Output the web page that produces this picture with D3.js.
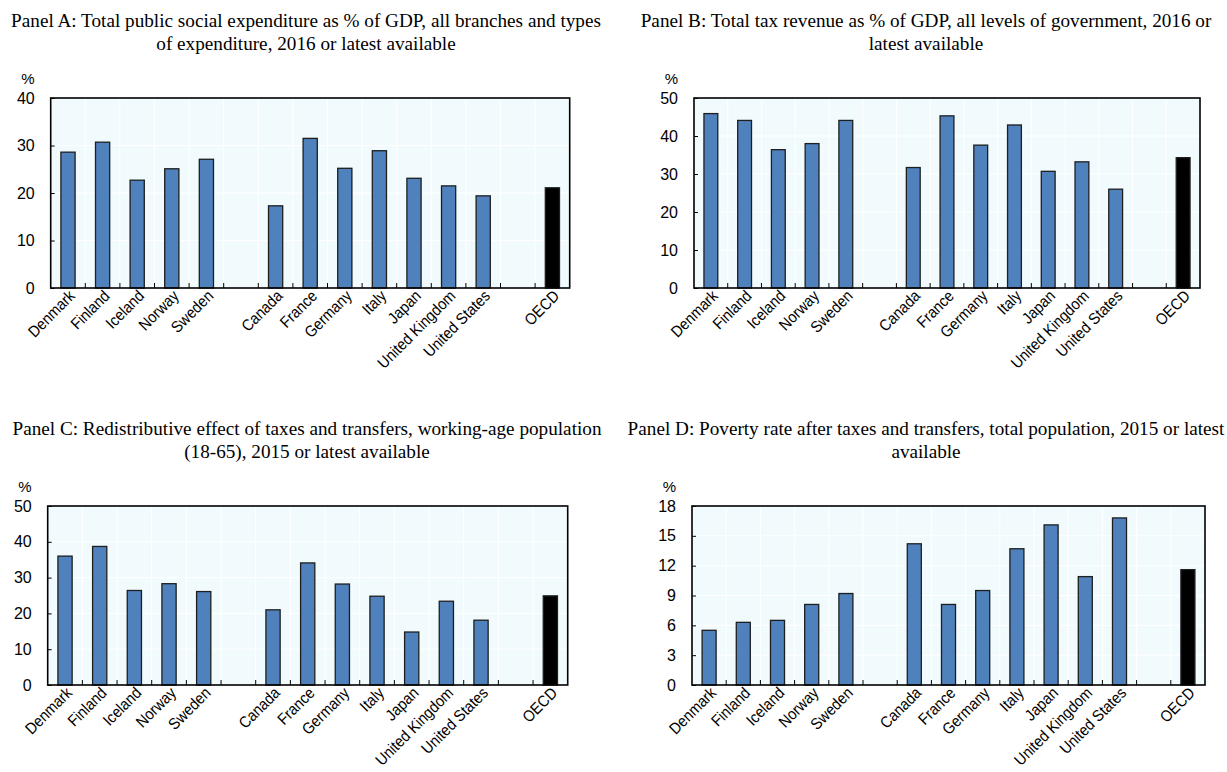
<!DOCTYPE html>
<html>
<head>
<meta charset="utf-8">
<script src="https://cdn.jsdelivr.net/npm/d3@7"></script>
<style>
  body { margin: 0; background: #fff; }
  svg { display: block; }
</style>
</head>
<body>
<svg id="chart" width="1227" height="772"></svg>
<script>
// Category slots; empty strings are spacer slots between country groups
const slots = ["Denmark", "Finland", "Iceland", "Norway", "Sweden", "",
  "Canada", "France", "Germany", "Italy", "Japan", "United Kingdom", "United States", "",
  "OECD"];

// Panel A: total public social expenditure, % of GDP
const socialExpenditure = [28.6, 30.7, 22.7, 25.1, 27.1, null,
  17.3, 31.5, 25.2, 28.9, 23.1, 21.5, 19.4, null, 21.1];
// Panel B: total tax revenue, % of GDP
const taxRevenue = [45.9, 44.1, 36.4, 38.0, 44.1, null,
  31.7, 45.3, 37.6, 42.9, 30.7, 33.2, 26.0, null, 34.3];
// Panel C: redistributive effect of taxes and transfers, working-age population
const redistribution = [36.0, 38.7, 26.4, 28.3, 26.1, null,
  21.0, 34.1, 28.2, 24.8, 14.8, 23.4, 18.1, null, 24.9];
// Panel D: poverty rate after taxes and transfers
const povertyRate = [5.5, 6.3, 6.5, 8.1, 9.2, null,
  14.2, 8.1, 9.5, 13.7, 16.1, 10.9, 16.8, null, 11.6];

const ticksA = [0, 10, 20, 30, 40];
const ticksB = [0, 10, 20, 30, 40, 50];
const ticksC = [0, 10, 20, 30, 40, 50];
const ticksD = [0, 3, 6, 9, 12, 15, 18];

const titleA = ["Panel A: Total public social expenditure as % of GDP, all branches and types",
  "of expenditure, 2016 or latest available"];
const titleB = ["Panel B: Total tax revenue as % of GDP, all levels of government, 2016 or",
  "latest available"];
const titleC = ["Panel C: Redistributive effect of taxes and transfers, working-age population",
  "(18-65), 2015 or latest available"];
const titleD = ["Panel D: Poverty rate after taxes and transfers, total population, 2015 or latest",
  "available"];

const panels = [
  { title: titleA, values: socialExpenditure, ticks: ticksA,
    left: 50.7, right: 569.7, top: 98, bottom: 288, titleX: 306, titleY: 27 },
  { title: titleB, values: taxRevenue, ticks: ticksB,
    left: 694, right: 1200, top: 98, bottom: 288, titleX: 926, titleY: 27 },
  { title: titleC, values: redistribution, ticks: ticksC,
    left: 47.7, right: 567.7, top: 506, bottom: 685, titleX: 307, titleY: 435 },
  { title: titleD, values: povertyRate, ticks: ticksD,
    left: 692, right: 1205, top: 506, bottom: 685, titleX: 926, titleY: 435 }
];

const svg = d3.select("#chart");
const sans = "'Liberation Sans', Arial, sans-serif";
const serif = "'Liberation Serif', 'Times New Roman', serif";
const barColor = "#4f81bd";
const avgColor = "#000000";
const plotBg = "#f1fbfe";

panels.forEach(p => {
  const g = svg.append("g");
  const idx = d3.range(slots.length);

  const x = d3.scaleBand()
    .domain(idx)
    .range([p.left, p.right])
    .paddingInner(0.59)
    .paddingOuter(0.295);

  const y = d3.scaleLinear()
    .domain([0, d3.max(p.ticks)])
    .range([p.bottom, p.top]);

  // title
  const t = g.append("text")
    .attr("x", p.titleX)
    .attr("y", p.titleY)
    .attr("text-anchor", "middle")
    .style("font-family", serif)
    .style("font-size", "19.2px")
    .attr("fill", "#000");
  p.title.forEach((line, i) => {
    t.append("tspan").attr("x", p.titleX).attr("dy", i === 0 ? 0 : 23).text(line);
  });

  // plot background
  g.append("rect")
    .attr("x", p.left).attr("y", p.top)
    .attr("width", p.right - p.left).attr("height", p.bottom - p.top)
    .attr("fill", plotBg);

  // horizontal grid
  g.selectAll(".hgrid").data(p.ticks.slice(1, -1)).enter().append("line")
    .attr("x1", p.left).attr("x2", p.right)
    .attr("y1", d => y(d)).attr("y2", d => y(d))
    .attr("stroke", "#ffffff").attr("stroke-width", 1);

  // vertical grid at slot boundaries
  const bounds = d3.range(1, slots.length).map(k => p.left + (x(k) - x(0)));
  g.selectAll(".vgrid").data(bounds).enter().append("line")
    .attr("x1", d => d).attr("x2", d => d)
    .attr("y1", p.top).attr("y2", p.bottom)
    .attr("stroke", "#ffffff").attr("stroke-width", 1);

  // bars
  const rows = idx.filter(i => p.values[i] != null);
  g.selectAll(".bar").data(rows).enter().append("rect")
    .attr("x", i => x(i))
    .attr("width", x.bandwidth())
    .attr("y", i => y(p.values[i]))
    .attr("height", i => y(0) - y(p.values[i]))
    .attr("fill", i => slots[i] === "OECD" ? avgColor : barColor)
    .attr("stroke", "#1e1e1e")
    .attr("stroke-width", 1.3);

  // frame
  g.append("rect")
    .attr("x", p.left).attr("y", p.top)
    .attr("width", p.right - p.left).attr("height", p.bottom - p.top)
    .attr("fill", "none").attr("stroke", "#000").attr("stroke-width", 1.6);

  // x tick marks (pointing up from the baseline)
  g.selectAll(".xtick").data(bounds).enter().append("line")
    .attr("x1", d => d).attr("x2", d => d)
    .attr("y1", p.bottom).attr("y2", p.bottom - 5)
    .attr("stroke", "#000").attr("stroke-width", 1);

  // y axis
  const yAxis = g.append("g")
    .attr("transform", `translate(${p.left},0)`)
    .call(d3.axisLeft(y).tickValues(p.ticks).tickSize(-4).tickPadding(16)
      .tickFormat(d3.format("d")));
  yAxis.select(".domain").remove();
  yAxis.selectAll(".tick line").attr("stroke", "#000");
  yAxis.selectAll(".tick text")
    .style("font-family", sans).style("font-size", "16px").attr("fill", "#000");

  // "%" unit label
  g.append("text")
    .attr("x", p.left - 16).attr("y", p.top - 14)
    .attr("text-anchor", "end")
    .style("font-family", sans).style("font-size", "15px")
    .attr("fill", "#000").text("%");

  // category labels, slightly condensed along the text direction
  g.selectAll(".xlab").data(idx.filter(i => slots[i] !== "")).enter().append("text")
    .attr("transform", i => `translate(${x(i) + x.bandwidth() / 2 + 4},${p.bottom + 5}) rotate(-45) scale(0.9,1)`)
    .attr("text-anchor", "end")
    .attr("dy", "0.35em")
    .style("font-family", sans).style("font-size", "16px")
    .attr("fill", "#000")
    .text(i => slots[i]);
});
</script>
</body>
</html>
